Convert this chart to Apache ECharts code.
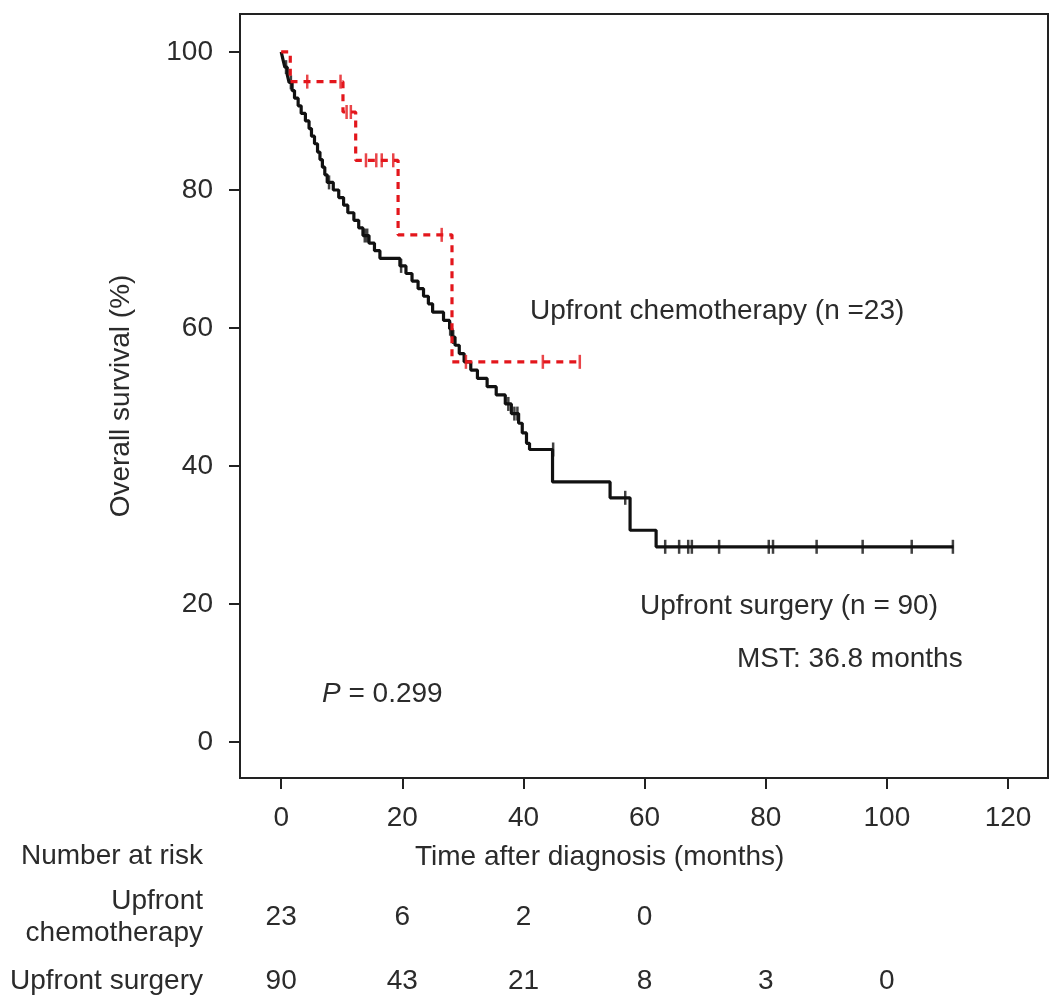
<!DOCTYPE html>
<html>
<head>
<meta charset="utf-8">
<script src="https://cdn.jsdelivr.net/npm/echarts@6/dist/echarts.min.js"></script>
<style>
  html, body { margin: 0; padding: 0; background: #fff; }
  #chart { width: 1063px; height: 1004px; }
</style>
</head>
<body>
<div id="chart"></div>
<script>
const months = [0, 20, 40, 60, 80, 100, 120];
const survTicks = [0, 20, 40, 60, 80, 100];

// Kaplan-Meier steps: [month, survival % after the event]
const surgerySteps = [[0,100],[0.3,98.9],[0.6,97.8],[1.0,96.7],[1.3,95.6],[1.8,94.4],[2.2,93.3],[2.8,92.2],[3.3,91.1],[4.0,90.0],[4.6,88.9],[5.0,87.8],[5.5,86.7],[6.0,85.5],[6.4,84.4],[6.8,83.3],[7.2,82.2],[7.6,81.1],[8.6,80.0],[9.5,78.9],[10.3,77.8],[11.0,76.7],[12.0,75.6],[12.8,74.5],[13.5,73.4],[14.5,72.3],[15.4,71.2],[16.3,70.1],[19.6,69.0],[20.6,67.9],[21.6,66.8],[22.6,65.7],[23.5,64.6],[24.3,63.5],[25.0,62.3],[26.8,61.1],[27.8,59.9],[28.2,58.7],[28.7,57.5],[29.4,56.3],[30.2,55.1],[31.3,53.9],[32.4,52.7],[34.0,51.5],[35.5,50.3],[37.0,49.0],[38.0,47.6],[39.2,46.2],[39.8,44.8],[40.5,43.3],[41.0,42.4],[44.8,37.7],[54.3,35.4],[57.6,30.7],[61.9,28.3],[111,28.3]];
const surgeryCensored = [[0.8,97.8],[1.6,95.6],[7.9,81.1],[13.8,73.4],[14.2,73.4],[19.8,69.0],[27.9,59.9],[28.4,58.7],[37.5,49.0],[38.5,47.6],[39.0,47.6],[44.9,42.4],[56.8,35.4],[63.4,28.3],[65.7,28.3],[67.2,28.3],[67.8,28.3],[72.3,28.3],[80.5,28.3],[81.2,28.3],[88.4,28.3],[96.0,28.3],[104.1,28.3],[110.9,28.3]];

const chemoSteps = [[0,100],[1.5,95.7],[10.2,91.3],[12.3,84.3],[19.3,73.5],[28.2,55.1],[49.3,55.1]];
const chemoCensored = [[4.3,95.7],[9.8,95.7],[10.8,91.3],[11.5,91.3],[14.0,84.3],[15.7,84.3],[16.6,84.3],[18.5,84.3],[26.5,73.5],[30.5,55.1],[43.2,55.1],[49.3,55.1]];

// number at risk
const riskMonths = [0, 20, 40, 60, 80, 100];
const riskChemo = [23, 6, 2, 0];
const riskSurgery = [90, 43, 21, 8, 3, 0];
const riskRows = ['Upfront surgery', 'Upfront\nchemotherapy'];

const FONT = '"Liberation Sans", Arial, sans-serif';
const TXT = '#2b2b2b';
const RED = '#e3161c';
const FS = 28;

const myChart = echarts.init(document.getElementById('chart'));

const riskData = [];
riskChemo.forEach((n, i) => riskData.push([riskMonths[i], riskRows[1], n]));
riskSurgery.forEach((n, i) => riskData.push([riskMonths[i], riskRows[0], n]));

const option = {
  animation: false,
  backgroundColor: '#fff',
  textStyle: { fontFamily: FONT },
  grid: [
    { left: 240, right: 15, top: 14, bottom: 226, show: true, borderColor: '#222', borderWidth: 2 },
    { left: 240, right: 15, top: 917, height: 64 }
  ],
  xAxis: [
    {
      type: 'value', gridIndex: 0, min: -6.8, max: 126.6,
      axisLine: { show: false, onZero: false },
      splitLine: { show: false },
      axisTick: { show: true, customValues: months, length: 11, lineStyle: { color: '#222', width: 2 } },
      axisLabel: { customValues: months, fontSize: FS, color: TXT, margin: 26, fontFamily: FONT }
    },
    {
      type: 'value', gridIndex: 1, min: -6.8, max: 126.6, show: false
    }
  ],
  yAxis: [
    {
      type: 'value', gridIndex: 0, min: -5.2, max: 105.5,
      name: 'Overall survival (%)', nameLocation: 'middle', nameGap: 105,
      nameTextStyle: { fontSize: FS, color: TXT, fontFamily: FONT },
      axisLine: { show: false, onZero: false },
      splitLine: { show: false },
      axisTick: { show: true, customValues: survTicks, length: 11, lineStyle: { color: '#222', width: 2 } },
      axisLabel: { customValues: survTicks, fontSize: FS, color: TXT, margin: 27, fontFamily: FONT }
    },
    {
      type: 'category', gridIndex: 1, data: riskRows, boundaryGap: false,
      axisLine: { show: false }, axisTick: { show: false }, splitLine: { show: false },
      axisLabel: { fontSize: FS, color: TXT, margin: 37, lineHeight: 32, align: 'right', fontFamily: FONT }
    }
  ],
  series: [
    {
      name: 'Upfront surgery', type: 'line', step: 'end', data: surgerySteps,
      showSymbol: false, lineStyle: { color: '#111', width: 3.2 }, z: 3
    },
    {
      name: 'Upfront surgery censored', type: 'scatter', data: surgeryCensored,
      symbol: 'rect', symbolSize: [2.5, 14], itemStyle: { color: '#111' }, z: 3
    },
    {
      name: 'Upfront chemotherapy', type: 'line', step: 'end', data: chemoSteps,
      showSymbol: false, lineStyle: { color: RED, width: 3.2, type: [7, 6] }, z: 4
    },
    {
      name: 'Upfront chemotherapy censored', type: 'scatter', data: chemoCensored,
      symbol: 'rect', symbolSize: [2.5, 14], itemStyle: { color: RED }, z: 4
    },
    {
      name: 'Number at risk', type: 'scatter', xAxisIndex: 1, yAxisIndex: 1,
      data: riskData, symbolSize: 0, itemStyle: { opacity: 1 },
      label: {
        show: true, position: 'inside', fontSize: FS, color: TXT, fontFamily: FONT,
        formatter: p => String(p.data[2])
      }
    }
  ],
  graphic: [
    { type: 'text', left: 530, top: 297, style: { text: 'Upfront chemotherapy (n =23)', font: FS + 'px ' + FONT, fill: TXT } },
    { type: 'text', left: 640, top: 592, style: { text: 'Upfront surgery (n = 90)', font: FS + 'px ' + FONT, fill: TXT } },
    { type: 'text', left: 737, top: 645, style: { text: 'MST: 36.8 months', font: FS + 'px ' + FONT, fill: TXT } },
    { type: 'text', left: 322, top: 680, style: {
        text: '{i|P} = 0.299', font: FS + 'px ' + FONT, fill: TXT,
        rich: { i: { fontStyle: 'italic', fontSize: FS, fontFamily: FONT, fill: TXT } } } },
    { type: 'text', left: 415, top: 843, style: { text: 'Time after diagnosis (months)', font: FS + 'px ' + FONT, fill: TXT } },
    { type: 'text', right: 860, top: 842, style: { text: 'Number at risk', font: FS + 'px ' + FONT, fill: TXT } }
  ]
};

myChart.setOption(option);
</script>
</body>
</html>
